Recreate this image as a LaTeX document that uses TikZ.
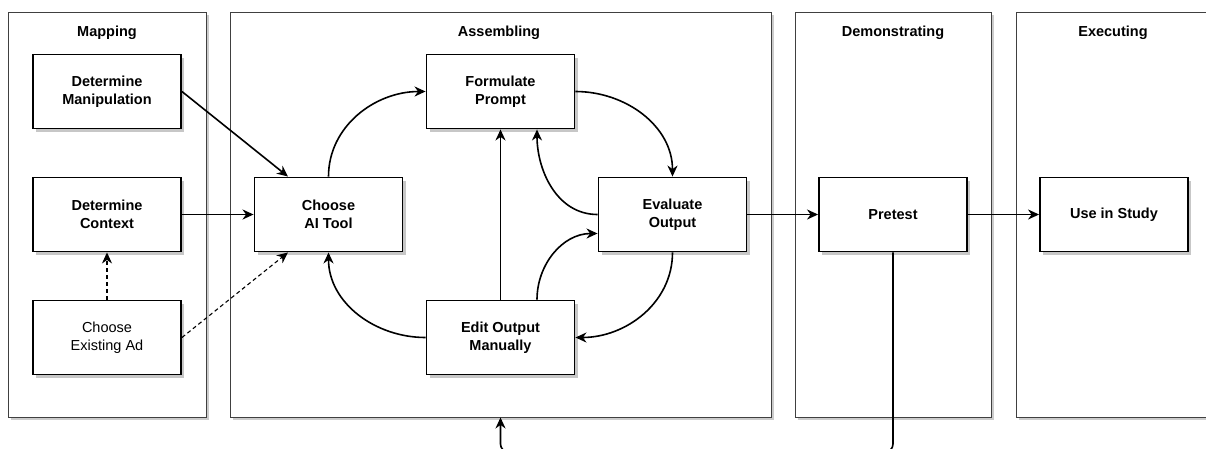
\documentclass[tikz,border=0pt]{standalone}
\usepackage{fontspec}
\setmainfont{Liberation Sans}
\usetikzlibrary{arrows.meta,shadows,calc}
\begin{document}
\begin{tikzpicture}[x=1pt,y=-1pt,
  font=\fontsize{14.5}{18}\selectfont,
  lane/.style={draw=black!75, line width=0.9pt, fill=white, inner sep=0pt,
    general shadow={fill=black!20, shadow xshift=2.5pt, shadow yshift=-2.5pt},
    minimum height=405pt},
  lanetitle/.style={font=\fontsize{14.5}{18}\selectfont\bfseries},
  box/.style={draw=black, line width=1.9pt, fill=white, inner sep=0pt,
    minimum width=148pt, minimum height=74pt, align=center,
    general shadow={fill=black!22, shadow xshift=3pt, shadow yshift=-3pt}},
  bbox/.style={box, font=\fontsize{14.5}{18}\selectfont\bfseries},
  arr/.style={line width=1.6pt, -{Stealth[length=11pt,width=10pt,inset=3.5pt]}},
  darr/.style={arr, dashed, dash pattern=on 4pt off 3pt, line width=1.1pt}
]
\useasboundingbox (0,0) rectangle (1206,448);
\fill[white] (0,0) rectangle (1206,448);

% lanes
\node[lane, minimum width=198pt] (map) at (107,214.5) {};
\node[lane, minimum width=541pt] (asm) at (500.5,214.5) {};
\node[lane, minimum width=196pt] (dem) at (893,214.5) {};
\node[lane, minimum width=204pt] (exe) at (1118,214.5) {};

\node[lanetitle] (tmap) at (107,33) {Mapping};
\node[lanetitle] (tasm) at (499,33) {Assembling};
\node[lanetitle] (tdem) at (893,33) {Demonstrating};
\node[lanetitle] (texe) at (1113,33) {Executing};

% boxes
\node[bbox] (dm) at (107,91.5) {Determine\\Manipulation};
\node[bbox] (dc) at (107,214.5) {Determine\\Context};
\node[box] (ea) at (107,337.5) {Choose\\Existing Ad};
\node[bbox] (ai) at (328.5,214.5) {Choose\\AI Tool};
\node[bbox] (fp) at (500.5,91.5) {Formulate\\Prompt};
\node[bbox] (eo) at (672.5,214.5) {Evaluate\\Output};
\node[bbox] (ed) at (500.5,337.5) {Edit Output\\Manually};
\node[bbox] (pt) at (893,214.5) {Pretest};
\node[bbox] (us) at (1114,214.5) {Use in Study};

% connectors
\draw[arr] (dm.east) -- ($(ai.north)+(-40.5,0)$);
\draw[arr] (dc.east) -- (ai.west);
\draw[darr] (ea.north) -- (dc.south);
\draw[darr] (ea.east) -- ($(ai.south)+(-40.5,0)$);

\draw[arr] (ai.north) to[out=90,in=180] (fp.west);
\draw[arr] (fp.east) to[out=0,in=90] (eo.north);
\draw[arr] (eo.west) to[out=180,in=-90] ($(fp.south)+(36.5,0)$);
\draw[arr] ($(ed.north)+(36.5,0)$) to[out=90,in=180] ($(eo.west)+(0,19)$);
\draw[arr] (eo.south) to[out=-90,in=0] (ed.east);
\draw[arr] (ed.west) to[out=180,in=-90] (ai.south);
\draw[arr] (ed.north) -- (fp.south);

\draw[arr] (eo.east) -- (pt.west);
\draw[arr] (pt.east) -- (us.west);

\coordinate (low) at (0,452);
\draw[arr, rounded corners=8pt] (pt.south) -- (pt.south |- low) -- (asm.south |- low) -- (asm.south);
\end{tikzpicture}
\end{document}
